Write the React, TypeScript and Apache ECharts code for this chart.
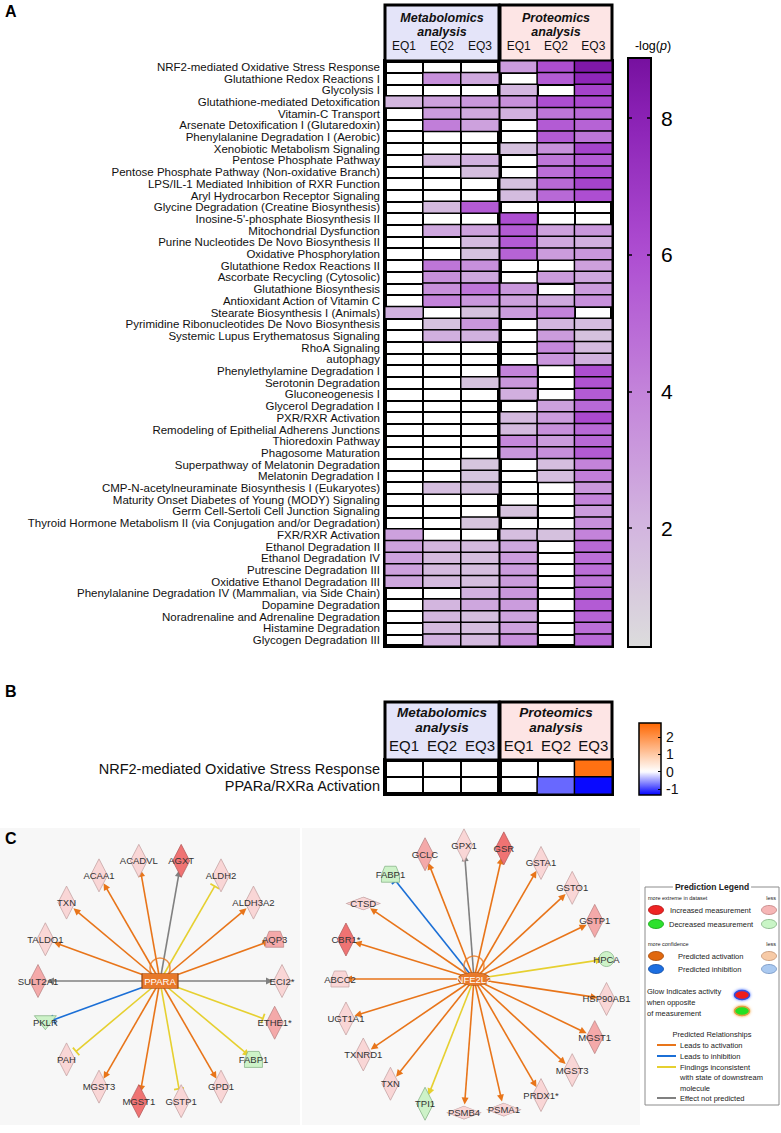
import React, { useEffect, useRef } from "react";
import * as echarts from "echarts";

// ---------------- Panel A data ----------------
const pathways = [
  "NRF2-mediated Oxidative Stress Response",
  "Glutathione Redox Reactions I",
  "Glycolysis I",
  "Glutathione-mediated Detoxification",
  "Vitamin-C Transport",
  "Arsenate Detoxification I (Glutaredoxin)",
  "Phenylalanine Degradation I (Aerobic)",
  "Xenobiotic Metabolism Signaling",
  "Pentose Phosphate Pathway",
  "Pentose Phosphate Pathway (Non-oxidative Branch)",
  "LPS/IL-1 Mediated Inhibition of RXR Function",
  "Aryl Hydrocarbon Receptor Signaling",
  "Glycine Degradation (Creatine Biosynthesis)",
  "Inosine-5'-phosphate Biosynthesis II",
  "Mitochondrial Dysfunction",
  "Purine Nucleotides De Novo Biosynthesis II",
  "Oxidative Phosphorylation",
  "Glutathione Redox Reactions II",
  "Ascorbate Recycling (Cytosolic)",
  "Glutathione Biosynthesis",
  "Antioxidant Action of Vitamin C",
  "Stearate Biosynthesis I (Animals)",
  "Pyrimidine Ribonucleotides De Novo Biosynthesis",
  "Systemic Lupus Erythematosus Signaling",
  "RhoA Signaling",
  "autophagy",
  "Phenylethylamine Degradation I",
  "Serotonin Degradation",
  "Gluconeogenesis I",
  "Glycerol Degradation I",
  "PXR/RXR Activation",
  "Remodeling of Epithelial Adherens Junctions",
  "Thioredoxin Pathway",
  "Phagosome Maturation",
  "Superpathway of Melatonin Degradation",
  "Melatonin Degradation I",
  "CMP-N-acetylneuraminate Biosynthesis I (Eukaryotes)",
  "Maturity Onset Diabetes of Young (MODY) Signaling",
  "Germ Cell-Sertoli Cell Junction Signaling",
  "Thyroid Hormone Metabolism II (via Conjugation and/or Degradation)",
  "FXR/RXR Activation",
  "Ethanol Degradation II",
  "Ethanol Degradation IV",
  "Putrescine Degradation III",
  "Oxidative Ethanol Degradation III",
  "Phenylalanine Degradation IV (Mammalian, via Side Chain)",
  "Dopamine Degradation",
  "Noradrenaline and Adrenaline Degradation",
  "Histamine Degradation",
  "Glycogen Degradation III",
];
const conditions = ["EQ1", "EQ2", "EQ3"];

// -log(p), null = not enriched (white)
const metabolomicsLogP: (number | null)[][] = [
  [null, null, null],
  [null, 3.5, 2.5],
  [null, null, null],
  [2.0, 2.8, 3.2],
  [null, 3.0, 2.5],
  [null, 4.2, 2.8],
  [null, null, null],
  [null, null, null],
  [null, 1.8, 2.2],
  [null, null, 1.6],
  [null, null, null],
  [null, null, null],
  [null, 1.8, 5.5],
  [null, null, null],
  [null, 2.6, 2.8],
  [null, null, 1.8],
  [null, null, 1.5],
  [null, 4.5, 3.5],
  [null, 3.5, 2.6],
  [null, 3.5, 4.5],
  [null, 4.0, 3.2],
  [2.2, null, 1.5],
  [null, 1.5, 3.2],
  [null, 2.3, 2.2],
  [null, null, null],
  [null, null, null],
  [null, null, null],
  [null, null, 1.4],
  [null, null, null],
  [null, null, null],
  [null, null, null],
  [null, null, null],
  [null, null, null],
  [null, null, null],
  [null, null, 1.3],
  [null, null, 1.3],
  [null, 1.6, 1.5],
  [null, null, null],
  [null, null, null],
  [null, null, 1.3],
  [2.8, null, null],
  [2.8, 2.0, 1.8],
  [2.8, 1.8, 1.6],
  [2.8, 1.8, 1.6],
  [2.6, 1.8, 1.6],
  [null, null, 2.2],
  [null, 2.0, 2.6],
  [null, 2.0, 1.6],
  [null, 1.8, 1.6],
  [null, 2.2, 1.8],
];
const proteomicsLogP: (number | null)[][] = [
  [3.0, 6.0, 8.5],
  [null, 5.5, 7.8],
  [2.0, null, 6.5],
  [3.5, 6.0, 6.2],
  [2.2, 4.5, 5.0],
  [null, 5.5, 5.2],
  [null, 5.5, 4.5],
  [1.5, 3.5, 6.5],
  [null, 4.5, 5.5],
  [null, 4.8, 6.0],
  [1.5, 5.0, 6.5],
  [1.7, 5.0, 6.0],
  [null, null, null],
  [6.0, null, null],
  [5.5, 2.8, 3.2],
  [5.5, 2.5, 2.3],
  [5.2, 3.0, 3.2],
  [null, null, 2.8],
  [null, 3.0, 2.6],
  [3.2, null, 3.0],
  [2.8, 2.5, 3.5],
  [3.0, 4.0, null],
  [null, 2.0, 1.7],
  [null, 3.0, 1.5],
  [null, 3.8, 1.8],
  [null, 3.3, 2.2],
  [4.0, null, 6.0],
  [3.2, null, 5.8],
  [2.3, null, 5.5],
  [null, 2.8, 5.0],
  [1.8, 3.0, 6.2],
  [1.8, 3.5, 5.0],
  [3.8, 3.0, 5.0],
  [3.2, 3.5, 5.5],
  [null, 1.6, 4.0],
  [null, 1.6, 4.2],
  [null, null, 3.2],
  [null, null, 4.0],
  [1.4, null, 3.0],
  [null, null, 3.5],
  [1.6, 1.5, 4.0],
  [2.6, null, 5.0],
  [3.0, null, 4.8],
  [3.0, null, 4.8],
  [3.0, null, 4.5],
  [3.2, null, 5.0],
  [3.0, null, 5.5],
  [2.7, null, 5.2],
  [2.8, null, 4.8],
  [3.5, null, 5.0],
];
const logPTicks = [2, 4, 6, 8];
const logPMin = 0.26;
const logPMax = 8.88;
const logPAnchors: [number, string][] = [
  [0.26, "#dcdcdc"],
  [2, "#d3b6df"],
  [4, "#c383da"],
  [6, "#ae4ed2"],
  [8, "#8b22b5"],
  [8.88, "#76109f"],
];

// ---------------- Panel B data ----------------
const bPathways = ["NRF2-mediated Oxidative Stress Response", "PPARa/RXRa Activation"];
const bMetabolomicsZ: (number | null)[][] = [
  [null, null, null],
  [null, null, null],
];
const bProteomicsZ: (number | null)[][] = [
  [null, null, 2.6],
  [null, -0.8, -1.3],
];
const zTicks = [-1, 0, 1, 2];
const zMin = -1.35;
const zMax = 2.8;
const zAnchors: [number, string][] = [
  [-1.35, "#0000ff"],
  [0, "#ffffff"],
  [2.8, "#ff6600"],
];

// ---------------- Panel C data ----------------
const ppCenterName = "PPARA";
const ppTargets = ["ECI2*", "AQP3", "ALDH3A2", "ALDH2", "AGXT", "ACADVL", "ACAA1", "TXN", "TALDO1", "SULT2A1", "PKLR", "PAH", "MGST3", "MGST1", "GSTP1", "GPD1", "FABP1", "ETHE1*"];
const ppShapes = ["enzyme", "transporter", "enzyme", "enzyme", "enzyme", "enzyme", "enzyme", "enzyme", "enzyme", "enzyme", "kinase", "enzyme", "enzyme", "enzyme", "enzyme", "enzyme", "transporter", "enzyme"];
const ppLevels = [1, 2, 1, 1, 3, 1, 1, 1, 1, 2, -1, 1, 1, 3, 1, 1, -1, 2];
const ppRelations = ["none", "act", "act", "incInh", "none", "act", "act", "act", "act", "none", "inh", "incInh", "act", "act", "incInh", "act", "incAct", "incInh"];

const nfCenterName = "NFE2L2";
const nfTargets = ["HPCA", "GSTP1", "GSTO1", "GSTA1", "GSR", "GPX1", "GCLC", "FABP1", "CTSD", "CBR1*", "ABCC2", "UGT1A1", "TXNRD1", "TXN", "TPI1", "PSMB4", "PSMA1", "PRDX1*", "MGST3", "MGST1", "HSP90AB1"];
const nfShapes = ["other", "enzyme", "enzyme", "enzyme", "enzyme", "enzyme", "enzyme", "transporter", "peptidase", "enzyme", "transporter", "enzyme", "enzyme", "enzyme", "enzyme", "peptidase", "peptidase", "enzyme", "enzyme", "enzyme", "enzyme"];
const nfLevels = [-1, 2, 1, 1, 3, 1, 2, -1, 1, 3, 1, 1, 1, 1, -1, 1, 1, 1, 1, 2, 1];
const nfRelations = ["incAct", "act", "act", "act", "act", "none", "act", "inh", "act", "act", "act", "act", "act", "act", "incAct", "act", "act", "act", "act", "act", "act"];

// ---------------- helpers ----------------
const FONT = "'Liberation Sans', Arial, Helvetica, sans-serif";

function hexRgb(c: string) {
  const n = parseInt(c.slice(1), 16);
  return [(n >> 16) & 255, (n >> 8) & 255, n & 255];
}
function mix(a: string, b: string, t: number) {
  const A = hexRgb(a), B = hexRgb(b);
  return "#" + A.map((v, i) => Math.round(v + (B[i] - v) * t).toString(16).padStart(2, "0")).join("");
}
function sampleScale(anchors: [number, string][], min: number, max: number, n: number) {
  const out: string[] = [];
  for (let i = 0; i < n; i++) {
    const v = min + ((max - min) * i) / (n - 1);
    let k = 0;
    while (k < anchors.length - 2 && v > anchors[k + 1][0]) k++;
    const [v0, c0] = anchors[k];
    const [v1, c1] = anchors[k + 1];
    const t = Math.max(0, Math.min(1, (v - v0) / (v1 - v0)));
    out.push(mix(c0, c1, t));
  }
  return out;
}
function gradient(colors: string[]) {
  const n = colors.length;
  return {
    type: "linear", x: 0, y: 0, x2: 0, y2: 1,
    colorStops: colors.slice().reverse().map((c, i) => ({ offset: i / (n - 1), color: c })),
  };
}
function cells(matrix: (number | null)[][]) {
  const out: number[][] = [];
  matrix.forEach((row, r) => row.forEach((v, c) => { if (v !== null) out.push([c, r, v]); }));
  return out;
}

const TBAR = "path://M0,0h0.01v0.01h-0.01z M0,4.1H10V5.9H0Z M9.99,9.99h0.01v0.01h-0.01z";
const TRAPEZOID = "path://M4,0H14L17,8V15H1V8Z";

const levelFill: Record<string, string> = { "3": "#ef7373", "2": "#f4a9a9", "1": "#f9d6d6", "-1": "#cdf2c8" };
const levelStroke: Record<string, string> = { "3": "#b05a5a", "2": "#b98484", "1": "#c2a0a0", "-1": "#7fae7f" };
const relColor: Record<string, string> = { act: "#e8751a", inh: "#1b6fd6", incAct: "#e6d030", incInh: "#e6d030", none: "#808080" };
const relEnd: Record<string, string> = { act: "triangle", inh: TBAR, incAct: "triangle", incInh: TBAR, none: "triangle" };

function shapeStyle(shape: string) {
  switch (shape) {
    case "transporter": return { symbol: TRAPEZOID, symbolSize: [18, 16], symbolRotate: 0 };
    case "kinase": return { symbol: "triangle", symbolSize: [22, 14], symbolRotate: 180 };
    case "peptidase": return { symbol: "diamond", symbolSize: [34, 13], symbolRotate: 0 };
    case "other": return { symbol: "circle", symbolSize: [15, 15], symbolRotate: 0 };
    default: return { symbol: "diamond", symbolSize: [17, 33], symbolRotate: 0 };
  }
}

function buildNetwork(
  centerName: string, centerSymbol: string, centerSize: number[], centerPos: number[],
  radius: number, startDeg: number, stepDeg: number,
  targets: string[], shapes: string[], levels: number[], relations: string[]
) {
  const [cx, cy] = centerPos;
  const nodes: any[] = [
    {
      name: centerName, value: [cx, cy], symbol: centerSymbol, symbolSize: centerSize,
      itemStyle: { color: "#e8792a", borderColor: "#9a4a12", borderWidth: 0.8 },
      label: { color: "#ffffff", fontSize: 9.5 }, z: 5,
    },
  ];
  const links: any[] = [];
  targets.forEach((t, i) => {
    const a = ((startDeg + i * stepDeg) * Math.PI) / 180;
    const s = shapeStyle(shapes[i]);
    nodes.push({
      name: t,
      value: [cx + radius * Math.cos(a), cy - radius * Math.sin(a)],
      ...s,
      itemStyle: { color: levelFill[String(levels[i])], borderColor: levelStroke[String(levels[i])], borderWidth: 0.7 },
    });
    const rel = relations[i];
    links.push({
      source: centerName, target: t,
      symbol: ["none", relEnd[rel]],
      symbolSize: rel === "inh" || rel === "incInh" ? 10 : 7,
      lineStyle: { color: relColor[rel], width: 1.6, opacity: 1, curveness: 0 },
    });
  });
  return { nodes, links };
}

const ppPos = [160, 981];
const nfPos = [474, 979];
const ppNet = buildNetwork(ppCenterName, "rect", [36, 15], ppPos, 122, 0, 20, ppTargets, ppShapes, ppLevels, ppRelations);
const nfNet = buildNetwork(nfCenterName, "circle", [32, 13], nfPos, 134, 360 / 42, 360 / 21, nfTargets, nfShapes, nfLevels, nfRelations);

// ---------------- legend graphic ----------------
function legendGroup() {
  const t = (text: string, x: number, y: number, extra: any = {}) => ({
    type: "text", x, y,
    style: { text, fontSize: 7.5, fill: "#222", fontFamily: FONT, verticalAlign: "middle", ...extra },
  });
  const ell = (cx: number, cy: number, fill: string, stroke: string, extra: any = {}) => ({
    type: "ellipse", shape: { cx, cy, rx: 7.5, ry: 4.5 }, style: { fill, stroke, lineWidth: 0.8, ...extra },
  });
  const ln = (y: number, color: string) => ({
    type: "line", shape: { x1: 12, y1: y, x2: 31, y2: y }, style: { stroke: color, lineWidth: 2 },
  });
  return {
    type: "group", x: 645, y: 887,
    children: [
      { type: "rect", shape: { x: 0, y: 0, width: 134, height: 218 }, style: { fill: "#fff", stroke: "#8c8c8c", lineWidth: 1 } },
      t("Prediction Legend", 67, 0, { fontWeight: "bold", fontSize: 8.5, align: "center", backgroundColor: "#fff", padding: [0, 2] }),
      t("more extreme in dataset", 3, 11, { fontSize: 5.5 }),
      t("less", 131, 11, { fontSize: 5.5, align: "right" }),
      ell(11, 23, "#ee2424", "#b01010"),
      t("Increased measurement", 25, 23),
      ell(124, 23, "#f6b6b6", "#c08080"),
      ell(11, 37, "#2ee02e", "#10a010"),
      t("Decreased measurement", 24, 37),
      ell(124, 37, "#c9f5c6", "#80b080"),
      t("more confidence", 3, 57, { fontSize: 5.5 }),
      t("less", 131, 57, { fontSize: 5.5, align: "right" }),
      ell(11, 69, "#e0680f", "#a04808"),
      t("Predicted activation", 33, 69),
      ell(124, 69, "#f7caa6", "#c09070"),
      ell(11, 82, "#1c6ee0", "#104aa0"),
      t("Predicted inhibition", 33, 82),
      ell(124, 82, "#aac9f0", "#7090c0"),
      t("Glow Indicates activity", 2, 104),
      t("when opposite", 2, 115),
      t("of measurement", 2, 126),
      ell(97, 108, "#ee1c1c", "#3050e0", { lineWidth: 1.5, shadowBlur: 3, shadowColor: "#3060ff" }),
      ell(97, 124, "#22e022", "#e0a040", { lineWidth: 1.5, shadowBlur: 3, shadowColor: "#f0a030" }),
      t("Predicted Relationships", 67, 147, { align: "center" }),
      ln(158, "#e8751a"), t("Leads to activation", 35, 158),
      ln(169, "#1b6fd6"), t("Leads to inhibition", 35, 169),
      ln(180, "#e6d030"), t("Findings inconsistent", 35, 180),
      t("with state of downstream", 35, 190),
      t("molecule", 35, 201),
      ln(211, "#808080"), t("Effect not predicted", 35, 211),
    ],
  };
}

function headerGraphics(top: number, height: number, titleTop: number, fontSize: number, lineH: number) {
  const boxes = [
    { x: 385, w: 114, fill: "#e4e4f9", title: "Metabolomics\nanalysis" },
    { x: 500, w: 112, fill: "#fde5e5", title: "Proteomics\nanalysis" },
  ];
  const out: any[] = [];
  boxes.forEach((b) => {
    out.push({ type: "rect", shape: { x: b.x, y: top, width: b.w, height }, style: { fill: b.fill, stroke: "#000", lineWidth: 3 } });
    out.push({
      type: "text", x: b.x + b.w / 2, y: titleTop,
      style: { text: b.title, fontSize, fontWeight: "bold", fontStyle: "italic", align: "center", verticalAlign: "top", lineHeight: lineH, fill: "#111", fontFamily: FONT },
    });
  });
  return out;
}

const App: React.FC = () => {
  const ref = useRef<HTMLDivElement>(null);
  useEffect(() => {
    if (!ref.current) return;
    const chart = echarts.init(ref.current, undefined, { renderer: "svg" });
    const logPColors = sampleScale(logPAnchors, logPMin, logPMax, 24);
    const zColors = sampleScale(zAnchors, zMin, zMax, 42);

    const catX = (gridIndex: number, fontSize: number, margin: number) => ({
      type: "category", gridIndex, data: conditions, position: "top",
      axisLine: { show: false }, axisTick: { show: false },
      axisLabel: { fontSize, margin, interval: 0, color: "#111", fontFamily: FONT },
      splitLine: { show: true, interval: 0, lineStyle: { color: "#000", width: 2 } },
    });
    const catY = (gridIndex: number, data: string[], showLabel: boolean, fontSize: number) => ({
      type: "category", gridIndex, data, inverse: true,
      axisLine: { show: false }, axisTick: { show: false },
      axisLabel: { show: showLabel, fontSize, margin: 5, interval: 0, color: "#111", fontFamily: FONT },
      splitLine: { show: true, interval: 0, lineStyle: { color: "#000", width: 2 } },
    });
    const heatStyle = { borderColor: "#000", borderWidth: 1.5 };

    const option: any = {
      animation: false,
      backgroundColor: "#ffffff",
      textStyle: { fontFamily: FONT },
      visualMap: [
        { type: "continuous", show: false, min: logPMin, max: logPMax, seriesIndex: [0, 1], inRange: { color: logPColors } },
        { type: "continuous", show: false, min: zMin, max: zMax, seriesIndex: [2, 3], inRange: { color: zColors } },
      ],
      grid: [
        { left: 385, top: 61, width: 114, height: 585, show: true, backgroundColor: "#fff", borderColor: "#000", borderWidth: 4 },
        { left: 500, top: 61, width: 112, height: 585, show: true, backgroundColor: "#fff", borderColor: "#000", borderWidth: 4 },
        { left: 628, top: 58, width: 23, height: 589, show: true, backgroundColor: gradient(logPColors), borderColor: "#000", borderWidth: 2 },
        { left: 385, top: 760, width: 114, height: 34, show: true, backgroundColor: "#fff", borderColor: "#000", borderWidth: 4 },
        { left: 500, top: 760, width: 112, height: 34, show: true, backgroundColor: "#fff", borderColor: "#000", borderWidth: 4 },
        { left: 639, top: 723, width: 22, height: 72, show: true, backgroundColor: gradient(zColors), borderColor: "#000", borderWidth: 1.5 },
        { left: 0, top: 800, width: 781, height: 333, show: false },
      ],
      xAxis: [
        catX(0, 12, 9),
        catX(1, 12, 9),
        { type: "category", gridIndex: 2, data: [""], show: false },
        catX(3, 15, 7),
        catX(4, 15, 7),
        { type: "category", gridIndex: 5, data: [""], show: false },
        { type: "value", gridIndex: 6, min: 0, max: 781, show: false },
      ],
      yAxis: [
        catY(0, pathways, true, 11.5),
        catY(1, pathways, false, 11.5),
        {
          type: "value", gridIndex: 2, min: logPMin, max: logPMax, position: "right",
          axisLine: { show: false }, splitLine: { show: false },
          axisTick: { show: true, inside: true, length: 4, customValues: logPTicks, lineStyle: { color: "#000", width: 1.5 } },
          axisLabel: { fontSize: 21, margin: 10, color: "#000", customValues: logPTicks, fontFamily: FONT },
        },
        {
          type: "value", gridIndex: 2, min: logPMin, max: logPMax, position: "left",
          axisLine: { show: false }, splitLine: { show: false }, axisLabel: { show: false },
          axisTick: { show: true, inside: true, length: 4, customValues: logPTicks, lineStyle: { color: "#000", width: 1.5 } },
        },
        catY(3, bPathways, true, 14.5),
        catY(4, bPathways, false, 14.5),
        {
          type: "value", gridIndex: 5, min: zMin, max: zMax, position: "right",
          axisLine: { show: false }, splitLine: { show: false },
          axisTick: { show: true, inside: true, length: 3, customValues: zTicks, lineStyle: { color: "#000", width: 1 } },
          axisLabel: { fontSize: 14, margin: 5, color: "#111", customValues: zTicks, fontFamily: FONT },
        },
        { type: "value", gridIndex: 6, min: 800, max: 1133, inverse: true, show: false },
      ],
      series: [
        { type: "heatmap", xAxisIndex: 0, yAxisIndex: 0, data: cells(metabolomicsLogP), itemStyle: heatStyle },
        { type: "heatmap", xAxisIndex: 1, yAxisIndex: 1, data: cells(proteomicsLogP), itemStyle: heatStyle },
        { type: "heatmap", xAxisIndex: 3, yAxisIndex: 4, data: cells(bMetabolomicsZ), itemStyle: heatStyle },
        { type: "heatmap", xAxisIndex: 4, yAxisIndex: 5, data: cells(bProteomicsZ), itemStyle: heatStyle },
        {
          type: "scatter", xAxisIndex: 6, yAxisIndex: 7, silent: true,
          data: [ppPos, nfPos], symbol: "circle", symbolSize: 20, symbolOffset: [0, -13],
          itemStyle: { color: "rgba(0,0,0,0)", borderColor: "#e8751a", borderWidth: 1.5 },
        },
        {
          type: "graph", coordinateSystem: "cartesian2d", xAxisIndex: 6, yAxisIndex: 7,
          data: ppNet.nodes, links: ppNet.links,
          label: { show: true, position: "inside", fontSize: 9.5, color: "#333", fontFamily: FONT },
          lineStyle: { width: 1.6, opacity: 1 }, emphasis: { disabled: true },
        },
        {
          type: "graph", coordinateSystem: "cartesian2d", xAxisIndex: 6, yAxisIndex: 7,
          data: nfNet.nodes, links: nfNet.links,
          label: { show: true, position: "inside", fontSize: 9.5, color: "#333", fontFamily: FONT },
          lineStyle: { width: 1.6, opacity: 1 }, emphasis: { disabled: true },
        },
      ],
      graphic: [
        { type: "rect", shape: { x: 0, y: 828, width: 300, height: 297 }, style: { fill: "#f7f7f7" } },
        { type: "rect", shape: { x: 302, y: 828, width: 338, height: 297 }, style: { fill: "#f8f8f8" } },
        ...headerGraphics(5, 56, 11, 12.5, 14),
        ...headerGraphics(702, 58, 705, 13.5, 15),
        { type: "text", x: 5, y: 3, style: { text: "A", fontSize: 16, fontWeight: "bold", fill: "#000", fontFamily: FONT } },
        { type: "text", x: 5, y: 683, style: { text: "B", fontSize: 16, fontWeight: "bold", fill: "#000", fontFamily: FONT } },
        { type: "text", x: 5, y: 830, style: { text: "C", fontSize: 16, fontWeight: "bold", fill: "#000", fontFamily: FONT } },
        {
          type: "text", x: 653, y: 46,
          style: {
            text: "{a|-log(}{b|p}{a|)}", align: "center", verticalAlign: "middle", fontFamily: FONT,
            rich: { a: { fontSize: 12.5, fill: "#000" }, b: { fontSize: 12.5, fontStyle: "italic", fill: "#000" } },
          },
        },
        legendGroup(),
      ],
    };
    chart.setOption(option);
    return () => chart.dispose();
  }, []);
  return <div ref={ref} style={{ position: "absolute", left: 0, top: 0, width: 781, height: 1133 }} />;
};

export default App;
